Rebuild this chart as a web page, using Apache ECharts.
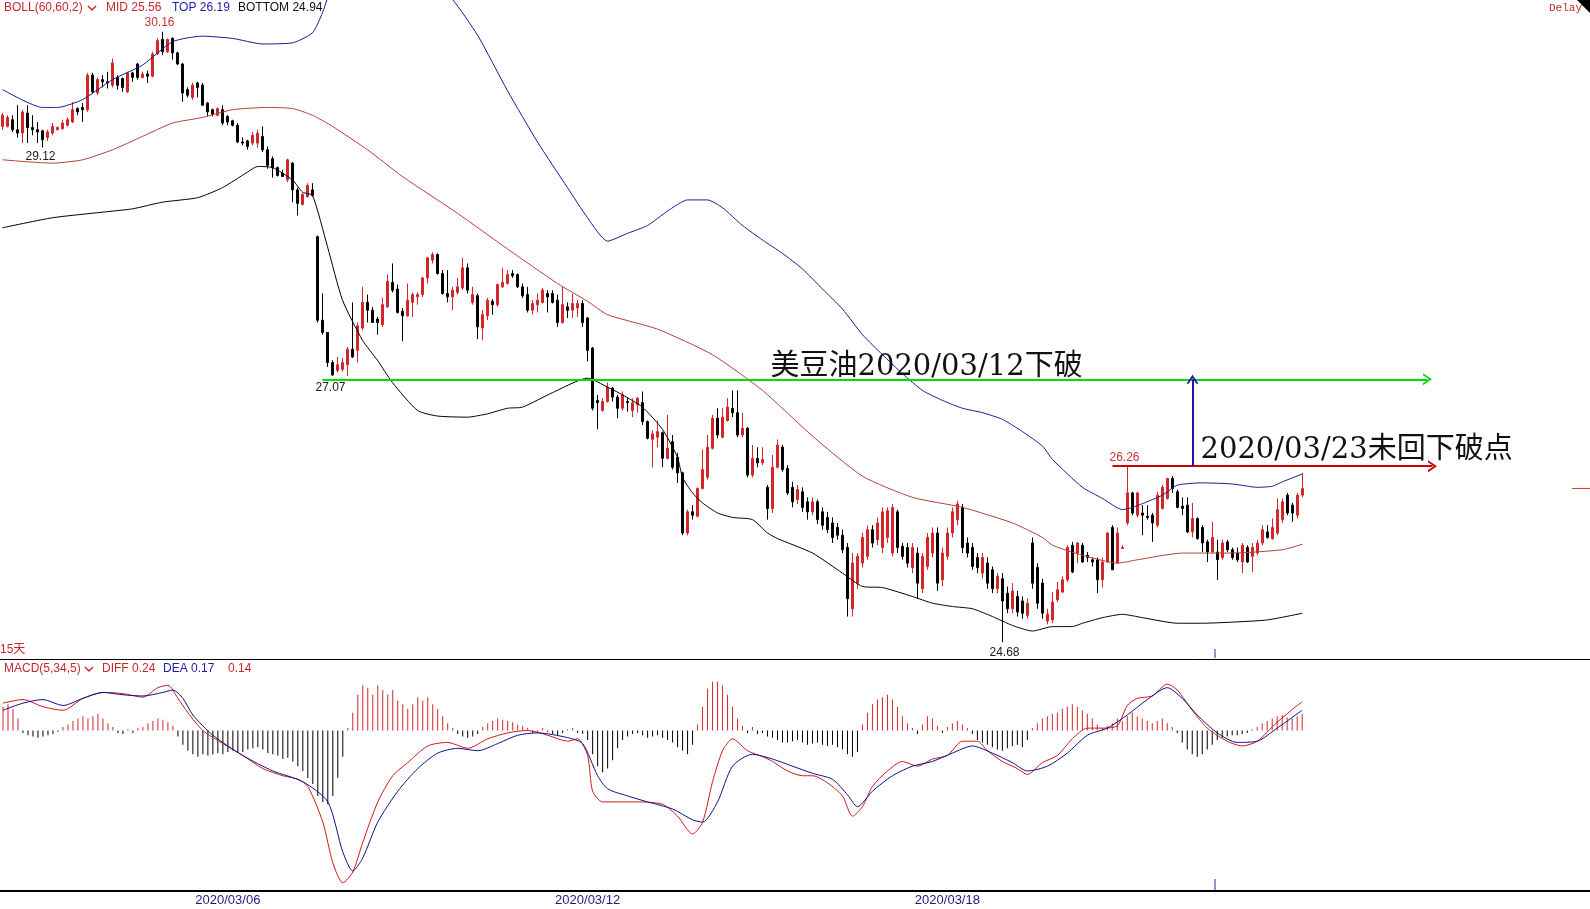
<!DOCTYPE html>
<html><head><meta charset="utf-8">
<script src="https://cdn.jsdelivr.net/npm/echarts/dist/echarts.min.js"></script>
<style>html,body{margin:0;padding:0;background:#fff;overflow:hidden;}#c{width:1590px;height:909px;}</style>
</head><body><div id="c"></div>
<script>
// ---------------- DATA ----------------
const candleOpen = [
29.31,29.31,29.37,29.28,29.25,29.43,29.30,29.28,29.27,29.21,
29.25,29.28,29.29,29.32,29.35,29.47,29.48,29.46,29.77,29.61,
29.73,29.71,29.68,29.75,29.74,29.62,29.79,29.87,29.75,29.78,
29.76,29.96,30.09,29.98,30.10,29.97,29.87,29.64,29.57,29.70,
29.68,29.52,29.46,29.41,29.46,29.40,29.36,29.32,29.17,29.18,
29.16,29.16,29.22,29.10,29.02,28.94,28.89,28.83,28.98,28.74,
28.61,28.68,28.74,28.32,27.57,27.46,27.19,27.12,27.13,27.17,
27.31,27.30,27.50,27.73,27.66,27.58,27.53,27.69,27.91,27.85,
27.65,27.61,27.73,27.78,27.80,27.95,28.11,28.16,27.99,27.81,
27.78,27.82,27.86,28.04,27.73,27.79,27.50,27.61,27.74,27.71,
27.87,27.90,27.99,27.98,27.87,27.80,27.66,27.71,27.73,27.81,
27.81,27.75,27.55,27.69,27.66,27.68,27.72,27.59,27.32,26.85,
26.76,26.84,26.96,26.88,26.78,26.84,26.76,26.81,26.83,26.66,
26.50,26.52,26.56,26.33,26.48,26.34,26.20,25.66,25.85,25.81,
26.06,26.16,26.42,26.69,26.52,26.67,26.78,26.74,26.54,26.60,
26.18,26.33,26.29,26.07,25.88,26.25,26.43,26.24,26.07,25.96,
26.03,25.94,25.85,25.94,25.85,25.80,25.75,25.71,25.64,25.53,
24.98,25.21,25.39,25.45,25.69,25.60,25.53,25.62,25.48,25.85,
25.54,25.53,25.35,25.48,25.16,25.36,25.48,25.66,25.24,25.45,
25.66,25.78,25.89,25.57,25.53,25.44,25.30,25.39,25.33,25.16,
25.25,25.12,24.98,25.09,25.05,24.92,25.57,25.35,25.21,24.87,
24.88,25.06,25.13,25.24,25.55,25.48,25.55,25.46,25.42,25.42,
25.24,25.40,25.71,25.39,25.52,25.75,26.02,25.82,25.84,25.81,
25.82,25.73,25.88,25.97,26.15,26.03,25.90,25.91,25.67,25.79,
25.71,25.58,25.49,25.49,25.44,25.58,25.51,25.48,25.40,25.53,
25.45,25.48,25.57,25.67,25.61,25.66,25.78,26.00,25.91,25.82,
26.00];
const candleClose = [
29.41,29.39,29.28,29.25,29.44,29.30,29.28,29.26,29.19,29.26,
29.31,29.30,29.34,29.37,29.46,29.44,29.46,29.77,29.62,29.73,
29.71,29.70,29.88,29.68,29.66,29.79,29.75,29.75,29.78,29.76,
29.96,30.08,29.98,30.09,29.97,29.87,29.61,29.59,29.68,29.66,
29.50,29.44,29.42,29.47,29.34,29.35,29.32,29.17,29.16,29.13,
29.23,29.25,29.10,28.96,28.94,28.87,28.86,29.01,28.74,28.62,
28.70,28.78,28.69,27.57,27.46,27.19,27.08,27.17,27.19,27.31,
27.24,27.52,27.73,27.66,27.55,27.55,27.71,27.92,27.84,27.64,
27.61,27.75,27.80,27.80,27.95,28.13,28.16,27.99,27.81,27.78,
27.84,27.87,28.04,27.84,27.80,27.51,27.62,27.75,27.71,27.89,
27.91,27.98,27.97,27.87,27.79,27.66,27.72,27.75,27.84,27.78,
27.73,27.55,27.71,27.66,27.72,27.72,27.55,27.30,26.78,26.83,
26.84,26.97,26.88,26.78,26.90,26.83,26.83,26.87,26.66,26.51,
26.55,26.57,26.33,26.42,26.25,26.20,25.66,25.85,25.82,26.06,
26.23,26.43,26.69,26.54,26.70,26.79,26.74,26.54,26.60,26.18,
26.33,26.29,26.32,25.88,26.25,26.45,26.23,26.02,25.94,26.05,
25.89,25.85,25.94,25.78,25.73,25.69,25.62,25.64,25.51,25.07,
25.39,25.45,25.62,25.69,25.57,25.75,25.85,25.86,25.89,25.53,
25.45,25.39,25.53,25.21,25.45,25.62,25.66,25.21,25.48,25.66,
25.85,25.92,25.53,25.48,25.36,25.35,25.44,25.21,25.16,25.27,
25.05,24.98,25.14,24.95,24.94,25.03,25.21,25.03,24.94,24.93,
25.04,25.15,25.24,25.53,25.31,25.57,25.40,25.44,25.40,25.24,
25.40,25.66,25.33,25.66,25.53,26.02,25.84,26.02,25.82,25.80,
25.75,26.00,26.07,26.15,26.06,25.89,25.88,25.67,25.79,25.61,
25.57,25.49,25.62,25.42,25.57,25.51,25.44,25.42,25.55,25.40,
25.53,25.57,25.69,25.62,25.71,25.87,25.94,25.84,25.84,26.00,
26.06];
const candleLow = [
29.28,29.30,29.26,29.21,29.16,29.16,29.23,29.16,29.12,29.18,
29.23,29.28,29.28,29.31,29.34,29.41,29.35,29.44,29.61,29.59,
29.66,29.65,29.66,29.64,29.62,29.61,29.71,29.73,29.74,29.70,
29.75,29.95,29.95,29.97,29.91,29.86,29.53,29.57,29.55,29.57,
29.50,29.40,29.40,29.40,29.32,29.32,29.31,29.16,29.14,29.10,
29.14,29.12,29.08,28.93,28.85,28.86,28.86,28.81,28.63,28.51,
28.60,28.67,28.68,27.55,27.44,27.15,27.07,27.10,27.11,27.07,
27.23,27.19,27.48,27.55,27.55,27.44,27.51,27.68,27.82,27.63,
27.38,27.60,27.60,27.71,27.78,27.90,28.08,27.98,27.80,27.73,
27.66,27.80,27.84,27.81,27.71,27.40,27.39,27.57,27.62,27.69,
27.86,27.89,27.95,27.86,27.77,27.64,27.62,27.64,27.72,27.64,
27.72,27.51,27.54,27.59,27.59,27.60,27.51,27.20,26.76,26.59,
26.75,26.83,26.84,26.69,26.76,26.75,26.70,26.74,26.63,26.50,
26.25,26.43,26.25,26.32,26.23,26.11,25.64,25.64,25.78,25.80,
26.05,26.14,26.41,26.51,26.51,26.66,26.70,26.52,26.52,26.16,
26.16,26.25,26.27,25.78,25.84,26.24,26.21,26.00,25.89,25.92,
25.85,25.78,25.82,25.74,25.69,25.66,25.57,25.60,25.48,24.91,
24.91,25.16,25.35,25.42,25.53,25.55,25.48,25.57,25.45,25.48,
25.42,25.35,25.30,25.07,25.12,25.33,25.44,25.14,25.18,25.42,
25.62,25.73,25.48,25.44,25.33,25.30,25.25,25.16,25.12,25.12,
24.68,24.94,24.94,24.91,24.89,24.89,25.16,24.98,24.89,24.84,
24.85,25.04,25.12,25.22,25.30,25.39,25.39,25.40,25.36,25.12,
25.17,25.39,25.33,25.39,25.52,25.73,25.82,25.80,25.64,25.78,
25.58,25.71,25.87,25.96,26.02,25.88,25.82,25.66,25.62,25.60,
25.49,25.40,25.48,25.24,25.42,25.49,25.42,25.40,25.30,25.39,
25.31,25.46,25.55,25.61,25.60,25.64,25.75,25.82,25.76,25.79,
25.98];
const candleHigh = [
29.43,29.41,29.41,29.50,29.46,29.50,29.41,29.35,29.28,29.28,
29.34,29.31,29.37,29.39,29.53,29.48,29.52,29.79,29.79,29.75,
29.77,29.80,29.92,29.77,29.75,29.80,29.80,29.88,29.80,29.81,
29.98,30.10,30.16,30.10,30.11,29.98,29.88,29.66,29.70,29.71,
29.70,29.53,29.47,29.48,29.50,29.41,29.37,29.34,29.21,29.19,
29.26,29.28,29.31,29.13,29.04,28.95,28.92,29.02,28.99,28.76,
28.71,28.80,28.80,28.33,27.81,27.46,27.21,27.24,27.23,27.33,
27.73,27.55,27.87,27.80,27.69,27.60,27.77,27.98,28.08,27.89,
27.68,27.90,27.82,27.82,27.96,28.14,28.18,28.17,28.02,28.02,
27.87,27.95,28.13,28.08,27.87,27.81,27.66,27.77,27.76,27.90,
28.04,28.02,28.02,27.99,27.90,27.87,27.75,27.81,27.86,27.84,
27.84,27.80,27.87,27.73,27.81,27.75,27.75,27.60,27.33,26.90,
26.87,27.01,26.97,26.90,26.93,26.87,26.87,26.88,26.93,26.67,
26.58,26.67,26.57,26.72,26.54,26.38,26.21,25.87,25.91,26.07,
26.41,26.54,26.72,26.78,26.78,26.87,26.94,26.94,26.74,26.61,
26.45,26.43,26.43,26.09,26.36,26.50,26.45,26.27,26.12,26.09,
26.07,25.98,25.98,25.96,25.89,25.85,25.80,25.75,25.69,25.57,
25.48,25.48,25.66,25.73,25.73,25.80,25.89,25.89,25.92,25.87,
25.57,25.57,25.57,25.53,25.48,25.66,25.71,25.71,25.53,25.71,
25.89,25.95,25.92,25.62,25.57,25.48,25.48,25.44,25.36,25.30,
25.30,25.18,25.21,25.14,25.09,25.07,25.62,25.39,25.25,24.98,
25.13,25.22,25.27,25.55,25.58,25.58,25.57,25.49,25.44,25.44,
25.44,25.67,25.73,25.71,25.55,26.26,26.03,26.03,25.91,25.91,
25.84,26.03,26.09,26.15,26.17,26.05,25.98,25.98,25.93,25.80,
25.73,25.60,25.76,25.60,25.60,25.60,25.53,25.53,25.57,25.55,
25.57,25.60,25.73,25.73,25.79,25.97,25.97,26.02,25.93,26.02,
26.20];

// Bollinger bands: [candle index, price]
const bollTop = [[0,29.64],[8,29.48],[11,29.48],[16,29.55],[22,29.73],[28,29.86],[34,30.07],[40,30.12],[46,30.10],[52,30.05],[58,30.06],[62,30.15],[64,30.33],[66,30.58],[70,30.80],[75,30.90],[80,30.85],[85,30.68],[90,30.45],[95,30.13],[101,29.63],[107,29.17],[113,28.76],[117,28.49],[121,28.28],[125,28.35],[129,28.42],[133,28.55],[137,28.65],[141,28.65],[144,28.58],[148,28.42],[152,28.29],[156,28.17],[160,28.03],[164,27.85],[168,27.67],[172,27.44],[176,27.26],[180,27.09],[184,26.94],[188,26.85],[192,26.78],[196,26.74],[200,26.68],[204,26.57],[208,26.44],[210,26.32],[216,26.07],[220,25.97],[224,25.87],[226,25.89],[230,25.96],[232,26.00],[235,26.09],[240,26.11],[246,26.10],[251,26.07],[254,26.08],[256,26.12],[260,26.19]];
const bollMid = [[0,29.01],[10,28.98],[16,29.01],[22,29.10],[28,29.22],[34,29.34],[40,29.39],[46,29.46],[53,29.48],[58,29.47],[62,29.41],[66,29.31],[73,29.10],[80,28.86],[91,28.53],[101,28.21],[111,27.90],[117,27.74],[121,27.62],[131,27.49],[142,27.26],[152,26.94],[162,26.53],[172,26.17],[182,25.98],[192,25.89],[202,25.75],[208,25.62],[210,25.55],[216,25.46],[223,25.39],[227,25.42],[236,25.48],[246,25.48],[256,25.51],[260,25.56]];
const bollBottom = [[0,28.40],[10,28.49],[20,28.54],[26,28.57],[32,28.63],[39,28.67],[44,28.76],[49,28.90],[51,28.95],[54,28.94],[58,28.83],[60,28.72],[62,28.69],[65,28.23],[68,27.75],[72,27.39],[75,27.21],[78,27.01],[83,26.76],[87,26.71],[93,26.70],[97,26.73],[101,26.78],[104,26.79],[110,26.92],[117,27.05],[121,26.97],[124,26.90],[128,26.79],[132,26.59],[135,26.34],[136,26.16],[138,26.02],[140,25.93],[143,25.84],[146,25.80],[150,25.78],[153,25.66],[155,25.61],[162,25.48],[168,25.30],[172,25.18],[176,25.17],[182,25.09],[186,25.03],[190,25.00],[194,24.98],[198,24.91],[202,24.83],[206,24.78],[210,24.82],[214,24.82],[216,24.85],[220,24.90],[224,24.93],[228,24.90],[235,24.85],[240,24.85],[246,24.86],[253,24.88],[260,24.94]];

// MACD(5,34,5)
const macdDiff = [[0,0.23],[4,0.26],[8,0.20],[12,0.17],[16,0.27],[20,0.32],[24,0.31],[28,0.28],[31,0.36],[33,0.38],[35,0.27],[37,0.15],[40,0.00],[44,-0.11],[48,-0.21],[52,-0.32],[56,-0.38],[59,-0.41],[61,-0.47],[64,-0.77],[66,-1.11],[68,-1.28],[70,-1.19],[72,-0.94],[75,-0.60],[78,-0.38],[81,-0.27],[85,-0.13],[89,-0.10],[93,-0.15],[97,-0.07],[101,-0.02],[105,0.00],[109,-0.04],[113,-0.09],[115,-0.07],[117,-0.21],[118,-0.51],[120,-0.60],[123,-0.60],[127,-0.60],[132,-0.62],[135,-0.72],[138,-0.87],[140,-0.77],[142,-0.43],[144,-0.17],[146,-0.07],[149,-0.17],[152,-0.22],[154,-0.26],[157,-0.34],[160,-0.38],[162,-0.38],[165,-0.44],[168,-0.55],[170,-0.72],[172,-0.64],[174,-0.47],[177,-0.34],[180,-0.26],[183,-0.30],[186,-0.24],[189,-0.21],[192,-0.09],[195,-0.09],[197,-0.17],[200,-0.26],[203,-0.32],[205,-0.37],[208,-0.27],[211,-0.21],[214,-0.07],[217,0.02],[220,0.02],[223,0.04],[225,0.21],[227,0.27],[230,0.29],[233,0.39],[235,0.34],[238,0.17],[241,0.02],[245,-0.09],[248,-0.13],[251,-0.09],[255,0.07],[259,0.21],[260,0.24]];
const macdDea = [[0,0.17],[4,0.23],[8,0.26],[12,0.21],[16,0.27],[20,0.32],[24,0.30],[28,0.29],[32,0.32],[34,0.34],[36,0.27],[38,0.13],[42,-0.04],[48,-0.21],[54,-0.34],[60,-0.43],[65,-0.60],[68,-1.02],[70,-1.18],[72,-1.07],[75,-0.77],[79,-0.51],[83,-0.32],[87,-0.19],[91,-0.15],[95,-0.17],[99,-0.11],[103,-0.04],[107,-0.02],[113,-0.06],[116,-0.11],[119,-0.38],[121,-0.49],[125,-0.55],[129,-0.60],[134,-0.66],[138,-0.75],[140,-0.77],[143,-0.60],[146,-0.30],[150,-0.20],[154,-0.24],[158,-0.30],[162,-0.36],[166,-0.41],[169,-0.54],[171,-0.64],[174,-0.51],[178,-0.38],[182,-0.30],[186,-0.26],[190,-0.19],[194,-0.13],[198,-0.19],[202,-0.27],[205,-0.34],[209,-0.30],[213,-0.19],[217,-0.04],[221,0.02],[225,0.13],[229,0.26],[233,0.36],[236,0.27],[239,0.13],[243,-0.02],[247,-0.10],[251,-0.09],[255,0.02],[260,0.17]];
const macdHist = [
0.20,0.22,0.18,0.10,-0.02,-0.04,-0.05,-0.06,-0.05,-0.04,
-0.03,-0.01,0.03,0.05,0.08,0.10,0.12,0.10,0.12,0.14,
0.10,0.06,0.03,-0.02,-0.03,0.01,-0.02,0.02,0.03,0.06,
0.08,0.10,0.09,0.07,0.04,-0.05,-0.12,-0.17,-0.20,-0.22,
-0.20,-0.21,-0.20,-0.19,-0.20,-0.18,-0.17,-0.19,-0.18,-0.16,
-0.15,-0.14,-0.16,-0.19,-0.20,-0.21,-0.24,-0.23,-0.26,-0.30,
-0.34,-0.40,-0.45,-0.55,-0.60,-0.62,-0.55,-0.40,-0.22,0.02,
0.15,0.30,0.38,0.36,0.30,0.38,0.34,0.30,0.34,0.25,
0.22,0.18,0.22,0.28,0.25,0.28,0.22,0.18,0.12,0.06,
0.02,-0.03,-0.05,-0.06,-0.05,-0.03,0.03,0.06,0.08,0.10,
0.09,0.08,0.07,0.05,0.04,0.02,-0.02,-0.01,0.02,-0.01,
-0.03,-0.04,-0.02,0.01,0.02,-0.02,-0.03,-0.08,-0.20,-0.30,
-0.35,-0.32,-0.25,-0.15,-0.08,-0.05,-0.03,-0.02,-0.04,-0.06,
-0.05,-0.04,-0.06,-0.08,-0.10,-0.14,-0.17,-0.20,-0.12,0.05,
0.20,0.35,0.41,0.41,0.38,0.30,0.20,0.10,0.04,-0.02,
0.03,-0.03,-0.02,-0.05,-0.06,-0.08,-0.10,-0.10,-0.09,-0.08,
-0.10,-0.12,-0.11,-0.10,-0.12,-0.13,-0.12,-0.14,-0.16,-0.20,
-0.22,-0.18,0.05,0.15,0.22,0.26,0.28,0.30,0.26,0.20,
0.12,0.06,0.02,-0.03,0.05,0.12,0.10,0.04,-0.02,0.03,
0.06,0.08,0.05,0.02,-0.03,-0.08,-0.10,-0.12,-0.14,-0.16,
-0.17,-0.15,-0.13,-0.12,-0.14,-0.08,0.02,0.06,0.10,0.12,
0.14,0.15,0.18,0.20,0.22,0.20,0.17,0.14,0.10,0.05,
0.02,0.04,0.06,0.10,0.08,0.12,0.15,0.12,0.10,0.08,
0.06,0.08,0.10,0.06,0.03,-0.02,-0.10,-0.16,-0.20,-0.22,
-0.20,-0.16,-0.12,-0.08,-0.06,-0.05,-0.04,-0.04,-0.03,-0.02,
0.01,0.03,0.06,0.08,0.10,0.12,0.13,0.11,0.10,0.12,
0.14];

const dateLabels = ['2020/03/06','2020/03/12','2020/03/18'];
const dateLabelIdx = [45,117,189];

const bollHeader = {name:'BOLL(60,60,2)', mid:'MID 25.56', top:'TOP 26.19', bottom:'BOTTOM 24.94'};
const macdHeader = {name:'MACD(5,34,5)', diff:'DIFF 0.24', dea:'DEA 0.17', hist:'0.14'};

const breakPrice = 27.04;     // green line level
const reboundHigh = 26.26;    // red line level
const lastPrice = 26.06;
const priceLabels = [ // [index, price, text, dx, dy, color]
  [32, 30.16, '30.16', -3, -9, '#c83232'],
  [8, 29.12, '29.12', -2, 9.5, '#1a1a1a'],
  [66, 27.07, '27.07', -2, 12, '#1a1a1a'],
  [200, 24.68, '24.68', 2, 11, '#1a1a1a'],
  [225, 26.26, '26.26', -3, -8, '#c83232']
];
const notes = [ // [index, price, text]
  [154, 27.15, '美豆油2020/03/12下破'],
  [240, 26.40, '2020/03/23未回下破点']
];

// ---------------- CHART ----------------
const N_SLOTS = 318;
const slots = Array.from({length: N_SLOTS}, (_, i) => i);
const PRICE_TOP = 30.4446, PRICE_BOTTOM = 24.529;
const MACD_TOP = 0.6008, MACD_BOTTOM = -1.3487;
const RED = '#d2262b';
const chevron = 'path://M0,10 L10,0 L20,10 L16.5,10 L10,3.5 L3.5,10 Z';

const candles = candleOpen.map((o, i) => [o, candleClose[i], candleLow[i], candleHigh[i]]);

const chart = echarts.init(document.getElementById('c'), null, {renderer: 'canvas'});

function bandSeries(data, color) {
  return {type:'line', xAxisIndex:0, yAxisIndex:0, data, symbol:'none', showSymbol:false,
    smooth:0.2, clip:true, silent:true, lineStyle:{color, width:1}};
}
function macdLine(data, color) {
  return {type:'line', xAxisIndex:1, yAxisIndex:1, data, symbol:'none', showSymbol:false,
    smooth:0.25, clip:true, silent:true, lineStyle:{color, width:1}};
}

chart.setOption({
  animation:false,
  backgroundColor:'#ffffff',
  grid:[
    {left:0, right:0, top:0, height:659},
    {left:0, right:0, top:659, height:232}
  ],
  xAxis:[
    {type:'category', gridIndex:0, data:slots, boundaryGap:true,
     axisLine:{show:true, onZero:false, lineStyle:{color:'#000', width:1}},
     axisTick:{show:false}, axisLabel:{show:false}, splitLine:{show:false}},
    {type:'category', gridIndex:1, data:slots, boundaryGap:true,
     axisLine:{show:true, onZero:false, lineStyle:{color:'#000', width:2}},
     axisTick:{show:false}, splitLine:{show:false},
     axisLabel:{show:true, interval:0, margin:3, color:'#1c1c80', fontSize:13,
       fontFamily:'"Liberation Sans", Arial, sans-serif',
       formatter:(v, idx) => { const k = dateLabelIdx.indexOf(idx); return k >= 0 ? dateLabels[k] : ''; }}}
  ],
  yAxis:[
    {type:'value', gridIndex:0, min:PRICE_BOTTOM, max:PRICE_TOP, show:false, splitLine:{show:false}},
    {type:'value', gridIndex:1, min:MACD_BOTTOM, max:MACD_TOP, show:false, splitLine:{show:false}}
  ],
  series:[
    bandSeries(bollMid, '#b8403a'),
    bandSeries(bollTop, '#1c1c8c'),
    bandSeries(bollBottom, '#000000'),
    {type:'candlestick', xAxisIndex:0, yAxisIndex:0, data:candles, barWidth:2, silent:true,
     itemStyle:{color:RED, color0:'#000', borderColor:RED, borderColor0:'#000', borderWidth:1},
     markLine:{silent:true, animation:false, symbol:['none', chevron], symbolSize:[12, 9],
       label:{show:false}, emphasis:{disabled:true},
       data:[
         [{coord:[64, breakPrice], lineStyle:{color:'#00dd00', width:2, type:'solid'}, itemStyle:{color:'#00dd00'}}, {coord:[285, breakPrice]}],
         [{coord:[222, reboundHigh], lineStyle:{color:'#c80000', width:2, type:'solid'}, itemStyle:{color:'#c80000'}}, {coord:[286, reboundHigh]}],
         [{coord:[238, reboundHigh], lineStyle:{color:'#1a1a9a', width:2, type:'solid'}, itemStyle:{color:'#1a1a9a'}}, {coord:[238, breakPrice]}]
       ]}},
    {type:'bar', xAxisIndex:1, yAxisIndex:1, barWidth:1, silent:true,
     data: macdHist.map(v => ({value:v, itemStyle:{color: v >= 0 ? RED : '#000'}}))},
    macdLine(macdDiff, '#cc1a1a'),
    macdLine(macdDea, '#10108c')
  ]
});

// ---------------- TEXT / DECORATIONS ----------------
const F12 = '12px "Liberation Sans", Arial, "Noto Sans CJK SC", sans-serif';
const FNOTE = '29px "DejaVu Serif", "Noto Sans CJK SC", serif';
function txt(x, y, s, color, font, align) {
  align = align || 'left';
  return {type:'text', silent:true, z:100,
    style:{x, y, text:s, fill:color, font, textAlign:align, align, textVerticalAlign:'middle', verticalAlign:'middle'}};
}
function px(i, v) { return chart.convertToPixel({gridIndex:0}, [i, v]); }

const g = [];
// BOLL header
g.push(txt(4, 8, bollHeader.name, '#c8282d', F12));
g.push({type:'polyline', silent:true, shape:{points:[[88,6],[92,10],[96,6]]}, style:{stroke:'#c8282d', lineWidth:1.5, fill:null}});
g.push(txt(106, 8, bollHeader.mid, '#c8282d', F12));
g.push(txt(172, 8, bollHeader.top, '#1e1ea8', F12));
g.push(txt(238, 8, bollHeader.bottom, '#111', F12));
// MACD header
g.push(txt(4, 669, macdHeader.name, '#c8282d', F12));
g.push({type:'polyline', silent:true, shape:{points:[[85,667],[89,671],[93,667]]}, style:{stroke:'#c8282d', lineWidth:1.5, fill:null}});
g.push(txt(102, 669, macdHeader.diff, '#c8282d', F12));
g.push(txt(163, 669, macdHeader.dea, '#1e1ea8', F12));
g.push(txt(228, 669, macdHeader.hist, '#c8282d', F12));
// period tag and delay tag
g.push(txt(0, 650, '15天', '#c8282d', F12));
g.push(txt(1549, 8, 'Delay', '#c0282d', '11px "Liberation Mono", "DejaVu Sans Mono", monospace'));
g.push({type:'polygon', silent:true, shape:{points:[[1577,0],[1590,0],[1590,13]]}, style:{fill:'#000'}});
// price labels
priceLabels.forEach(([i, v, s, dx, dy, c]) => {
  const p = px(i, v);
  g.push(txt(p[0] + dx, p[1] + dy, s, c, F12, 'center'));
});
// annotations
notes.forEach(([i, v, s]) => {
  const p = px(i, v);
  g.push(txt(p[0] - 2, p[1], s, '#111', FNOTE, 'left'));
});
// last price marker at right edge
const lp = px(260, lastPrice);
g.push({type:'line', silent:true, shape:{x1:1572, y1:lp[1], x2:1590, y2:lp[1]}, style:{stroke:'#e03030', lineWidth:1}});
// cursor ticks
const cx = px(243, lastPrice)[0] - 2.5;
g.push({type:'line', silent:true, shape:{x1:cx, y1:649, x2:cx, y2:658}, style:{stroke:'#2a2a9a', lineWidth:1}});
g.push({type:'line', silent:true, shape:{x1:cx, y1:879, x2:cx, y2:890}, style:{stroke:'#2a2a9a', lineWidth:1}});

chart.setOption({graphic: g});
</script>
</body></html>
